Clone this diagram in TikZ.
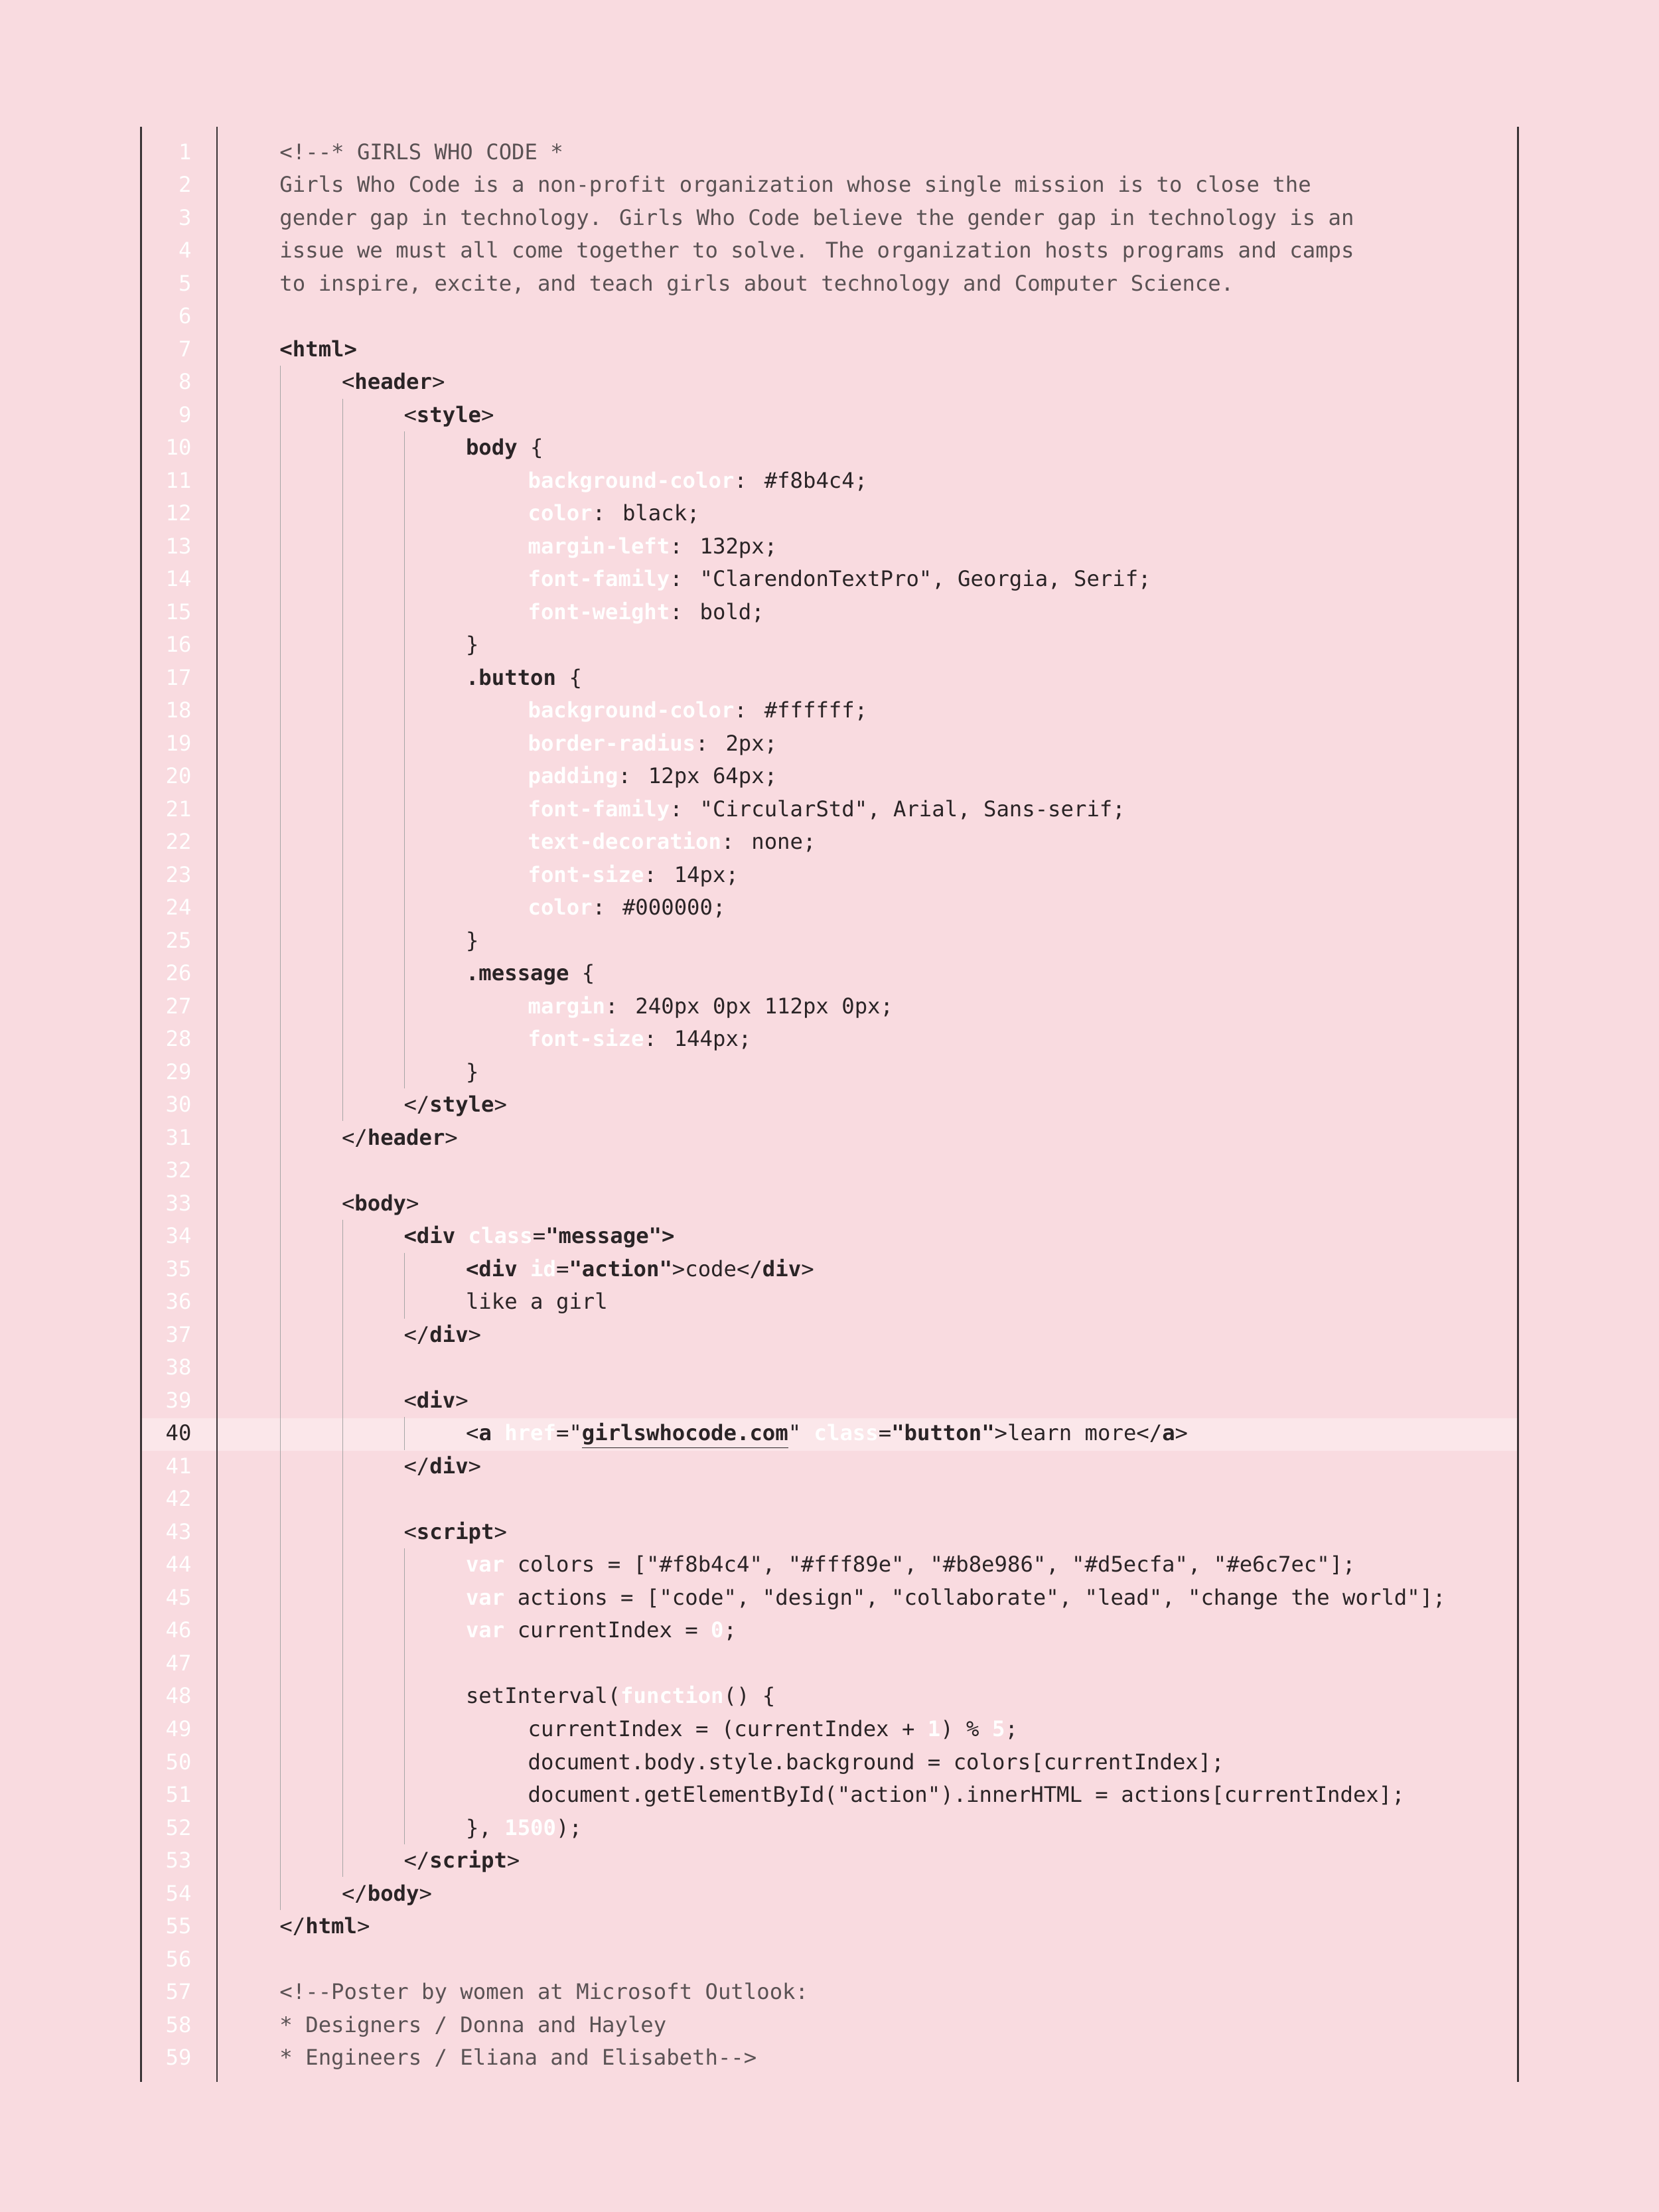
\documentclass[tikz,border=0pt]{standalone}
\usepackage{fontspec}
\newfontfamily\codefont{DejaVu Sans Mono}
\definecolor{posterbg}{HTML}{F9DBE0}
\definecolor{codeink}{HTML}{2A2426}
\definecolor{commentink}{HTML}{5A5254}
\definecolor{ruleink}{HTML}{3A3436}
\newcommand\tg[1]{\textbf{#1}}
\newcommand\kw[1]{\textcolor{white}{\textbf{#1}}}
\newcommand\cm[1]{\textcolor{commentink}{#1}}
% baseline of a code line
\newcommand\ybase[1]{-2.825-(#1-1)*0.58225}
\newcommand\cl[3]{%
  \node[numtxt] (num#1) at (3.4,{\ybase{#1}}) {#1};
  \node[codetxt] (ln#1) at ({4.95+#2*1.1},{\ybase{#1}}) {#3};}
\newcommand\nl[1]{\node[numtxt] (num#1) at (3.4,{\ybase{#1}}) {#1};}
\newcommand\guide[3]{\draw[guideline] (#1,{\ybase{#2}+0.42}) -- (#1,{\ybase{#3}-0.16});}
\begin{document}
\begin{tikzpicture}[
    codetxt/.style={anchor=base west, inner sep=0pt, text=codeink, font=\codefont\fontsize{10.8pt}{13pt}\selectfont},
    numtxt/.style={anchor=base east, inner sep=0pt, text=white, font=\codefont\fontsize{10.8pt}{13pt}\selectfont},
    frameline/.style={draw=ruleink, line width=0.9pt},
    guideline/.style={draw=gray!70, line width=0.35pt}
]
    \fill[posterbg] (0,0) rectangle (29.4,-39.2);
    \useasboundingbox (0,0) rectangle (29.4,-39.2);

    % Highlighted line
    \fill[white, opacity=0.35] (2.5,{\ybase{40}+0.4}) rectangle (26.9,{\ybase{40}-0.18});

    % Frame
    \draw[frameline] (2.5,-2.25) -- (2.5,-36.9);
    \draw[frameline, line width=0.6pt] (3.85,-2.25) -- (3.85,-36.9);
    \draw[frameline] (26.9,-2.25) -- (26.9,-36.9);

    % Indent guides
    \guide{4.97}{8}{54}
    \guide{6.07}{9}{30}
    \guide{6.07}{34}{53}
    \guide{7.17}{10}{29}
    \guide{7.17}{35}{36}
    \guide{7.17}{40}{40}
    \guide{7.17}{44}{52}

    % Comment header
    \cl{1}{0}{\cm{<!-{}-* GIRLS WHO CODE *}}
    \cl{2}{0}{\cm{Girls Who Code is a non-profit organization whose single mission is to close the}}
    \cl{3}{0}{\cm{gender gap in technology. Girls Who Code believe the gender gap in technology is an}}
    \cl{4}{0}{\cm{issue we must all come together to solve. The organization hosts programs and camps}}
    \cl{5}{0}{\cm{to inspire, excite, and teach girls about technology and Computer Science.}}
    \nl{6}

    % Markup
    \cl{7}{0}{\tg{<html>}}
    \cl{8}{1}{<\tg{header}>}
    \cl{9}{2}{<\tg{style}>}
    \cl{10}{3}{\tg{body} \{}
    \cl{11}{4}{\kw{background-color}: \#f8b4c4;}
    \cl{12}{4}{\kw{color}: black;}
    \cl{13}{4}{\kw{margin-left}: 132px;}
    \cl{14}{4}{\kw{font-family}: "ClarendonTextPro", Georgia, Serif;}
    \cl{15}{4}{\kw{font-weight}: bold;}
    \cl{16}{3}{\}}
    \cl{17}{3}{\tg{.button} \{}
    \cl{18}{4}{\kw{background-color}: \#ffffff;}
    \cl{19}{4}{\kw{border-radius}: 2px;}
    \cl{20}{4}{\kw{padding}: 12px 64px;}
    \cl{21}{4}{\kw{font-family}: "CircularStd", Arial, Sans-serif;}
    \cl{22}{4}{\kw{text-decoration}: none;}
    \cl{23}{4}{\kw{font-size}: 14px;}
    \cl{24}{4}{\kw{color}: \#000000;}
    \cl{25}{3}{\}}
    \cl{26}{3}{\tg{.message} \{}
    \cl{27}{4}{\kw{margin}: 240px 0px 112px 0px;}
    \cl{28}{4}{\kw{font-size}: 144px;}
    \cl{29}{3}{\}}
    \cl{30}{2}{</\tg{style}>}
    \cl{31}{1}{</\tg{header}>}
    \nl{32}
    \cl{33}{1}{<\tg{body}>}
    \cl{34}{2}{\tg{<div} \kw{class}=\tg{"message">}}
    \cl{35}{3}{\tg{<div} \kw{id}=\tg{"action"}>code</\tg{div}>}
    \cl{36}{3}{like a girl}
    \cl{37}{2}{</\tg{div}>}
    \nl{38}
    \cl{39}{2}{<\tg{div}>}
    \node[numtxt, text=codeink] (num40) at (3.4,{\ybase{40}}) {40};
    \node[codetxt] (ln40) at ({4.95+3*1.1},{\ybase{40}}) {<\tg{a} \kw{href}="\tg{\underline{girlswhocode.com}}" \kw{class}=\tg{"button"}>learn more</\tg{a}>};
    \cl{41}{2}{</\tg{div}>}
    \nl{42}

    % Script
    \cl{43}{2}{<\tg{script}>}
    \cl{44}{3}{\kw{var} colors = ["\#f8b4c4", "\#fff89e", "\#b8e986", "\#d5ecfa", "\#e6c7ec"];}
    \cl{45}{3}{\kw{var} actions = ["code", "design", "collaborate", "lead", "change the world"];}
    \cl{46}{3}{\kw{var} currentIndex = \kw{0};}
    \nl{47}
    \cl{48}{3}{setInterval(\kw{function}() \{}
    \cl{49}{4}{currentIndex = (currentIndex + \kw{1}) \% \kw{5};}
    \cl{50}{4}{document.body.style.background = colors[currentIndex];}
    \cl{51}{4}{document.getElementById("action").innerHTML = actions[currentIndex];}
    \cl{52}{3}{\}, \kw{1500});}
    \cl{53}{2}{</\tg{script}>}
    \cl{54}{1}{</\tg{body}>}
    \cl{55}{0}{</\tg{html}>}
    \nl{56}

    % Credits
    \cl{57}{0}{\cm{<!-{}-Poster by women at Microsoft Outlook:}}
    \cl{58}{0}{\cm{* Designers / Donna and Hayley}}
    \cl{59}{0}{\cm{* Engineers / Eliana and Elisabeth-{}->}}
\end{tikzpicture}
\end{document}
